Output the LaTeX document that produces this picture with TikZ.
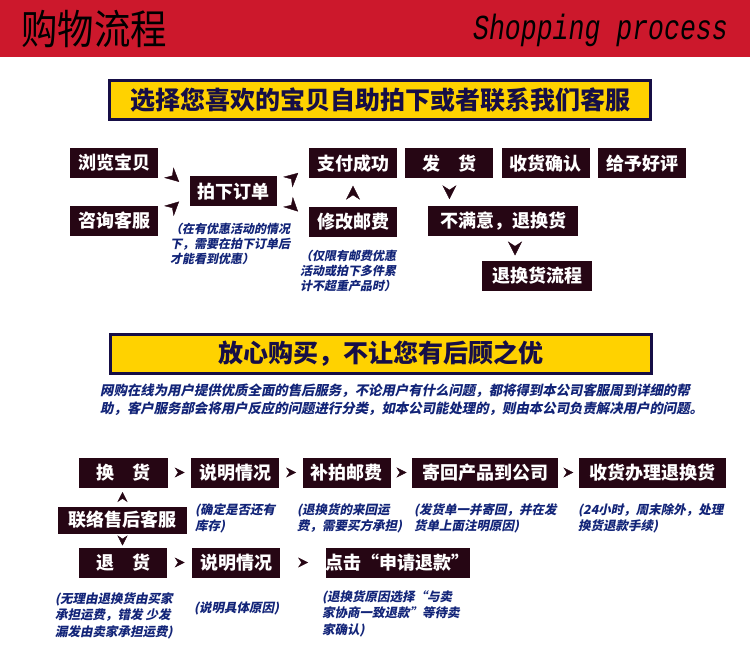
\documentclass[tikz,border=0pt]{standalone}
\usepackage{fontspec}
\usepackage{graphicx}
\newfontfamily\cjk{Noto Sans CJK SC}
\newfontfamily\cjksl[FakeSlant=0.2]{Noto Sans CJK SC}
\newfontfamily\monoit{Liberation Mono}
\usetikzlibrary{positioning,arrows.meta,decorations.markings}
\definecolor{hdred}{RGB}{204,24,44}
\definecolor{gold}{RGB}{255,210,0}
\definecolor{navy}{RGB}{22,14,70}
\definecolor{boxbg}{RGB}{38,6,20}
\definecolor{notecol}{RGB}{18,36,120}

\begin{document}
\begin{tikzpicture}[x=1pt, y=-1pt,
  box/.style={fill=boxbg, text=white, font=\cjk\bfseries\fontsize{18}{20}\selectfont, minimum width=88pt, minimum height=30pt, inner sep=0pt},
  banner/.style={draw=navy, line width=3pt, fill=gold, text=navy, font=\cjk\bfseries\fontsize{25}{28}\selectfont, minimum width=541pt, minimum height=39pt},
  note/.style={anchor=north west, inner sep=0pt, align=left, text=notecol, font=\cjksl\bfseries\fontsize{12}{15}\selectfont},
  small/.style={note, font=\cjksl\bfseries\fontsize{12.5}{16.5}\selectfont},
  tipmark/.style={color=boxbg, decoration={markings, mark=at position 0.5 with {\arrow[xshift=7pt]{Stealth[length=14pt, width=14pt]}}}, postaction=decorate},
  smalltip/.style={color=boxbg, decoration={markings, mark=at position 0.5 with {\arrow[xshift=5pt]{Stealth[length=10pt, width=10pt]}}}, postaction=decorate}]
  \useasboundingbox (0,0) rectangle (750,668);
  \fill[hdred] (0,0) rectangle (750,57);
  \node[anchor=west, inner sep=0pt, font=\cjk\fontsize{40}{40}\selectfont] (title) at (21,29) {\scalebox{0.91}[1.02]{购物流程}};
  \node[anchor=east, inner sep=0pt, font=\monoit\itshape\fontsize{26}{26}\selectfont] (titleen) at (728,30) {\scalebox{1.02}[1.35]{Shopping process}};

  \node[banner] (ban1) at (380,100) {选择您喜欢的宝贝自助拍下或者联系我们客服};
  \node[box] (browse) at (114,163) {浏览宝贝};
  \node[box] (ask) at (114,221) {咨询客服};
  \node[box, minimum width=87pt] (order) at (233.5,191.5) {拍下订单};
  \node[box] (pay) at (353,163.5) {支付成功};
  \node[box, below=28pt of pay] (fee) {修改邮费};
  \node[box, right=8pt of pay] (ship) {发　货};
  \node[box, right=8pt of ship] (recv) {收货确认};
  \node[box, right=8pt of recv] (rate) {给予好评};
  \node[box, minimum width=150pt] (unhappy) at (503,221) {不满意，退换货};
  \node[box, minimum width=110pt] (ret) at (537,276) {退换货流程};
  \node[note] (n1) at (170,223) {（在有优惠活动的情况\\下，需要在拍下订单后\\才能看到优惠）};
  \node[note] (n2) at (300,250) {（仅限有邮费优惠\\活动或拍下多件累\\计不超重产品时）};
  \path[tipmark] (browse.east) -- (order.west);
  \path[tipmark] (ask.east) -- (order.west);
  \path[tipmark] (order.east) -- (pay.west);
  \path[tipmark] (order.east) -- (fee.west);
  \path[tipmark] (fee.north) -- (pay.south);
  \path[tipmark] (ship.south) -- (ship.south |- unhappy.north);
  \path[tipmark] ([xshift=12pt]unhappy.south) -- ([xshift=12pt]unhappy.south |- ret.north);

  \node[banner] (ban2) at (381,354) {放心购买，不让您有后顾之优};
  \node[note, font=\cjksl\bfseries\fontsize{13.4}{18}\selectfont] (para) at (100,384) {网购在线为用户提供优质全面的售后服务，不论用户有什么问题，都将得到本公司客服周到详细的帮\\助，客户服务部会将用户反应的问题进行分类，如本公司能处理的，则由本公司负责解决用户的问题。};

  \node[box, minimum width=89pt] (exch) at (123.5,472.5) {换　货};
  \node[box, right=23pt of exch] (expl1) {说明情况};
  \node[box, right=23pt of expl1] (repay) {补拍邮费};
  \node[box, minimum width=146pt, right=21pt of repay] (send) {寄回产品到公司};
  \node[box, minimum width=147pt, right=20pt of send] (proc) {收货办理退换货};
  \node[box, minimum width=129pt, minimum height=27pt] (cs) at (122.5,520) {联络售后客服};
  \node[box] (refund) at (123,562.5) {退　货};
  \node[box, right=25pt of refund] (expl2) {说明情况};
  \node[box, minimum width=130pt, right=45pt of expl2] (click) {点击“申请退款”};
  \node[small] (n3) at (195,503) {(确定是否还有\\库存)};
  \node[small] (n4) at (297,503) {(退换货的来回运\\费，需要买方承担)};
  \node[small] (n5) at (414,503) {(发货单一并寄回，并在发\\货单上面注明原因)};
  \node[small] (n6) at (578,503) {(24小时，周末除外，处理\\换货退款手续)};
  \node[small] (n7) at (55,592) {(无理由退换货由买家\\承担运费，错发 少发\\漏发由卖家承担运费)};
  \node[small] (n8) at (194,602) {(说明具体原因)};
  \node[small] (n9) at (322,590) {(退换货原因选择“与卖\\家协商一致退款”等待卖\\家确认)};
  \path[smalltip] (exch) -- (expl1);
  \path[smalltip] (expl1) -- (repay);
  \path[smalltip] (repay) -- (send);
  \path[smalltip] (send) -- (proc);
  \path[smalltip] (cs.north) -- (cs.north |- exch.south);
  \path[smalltip] (cs.south) -- (cs.south |- refund.north);
  \path[smalltip] (refund) -- (expl2);
  \path[smalltip] (expl2) -- (click);
\end{tikzpicture}
\end{document}
